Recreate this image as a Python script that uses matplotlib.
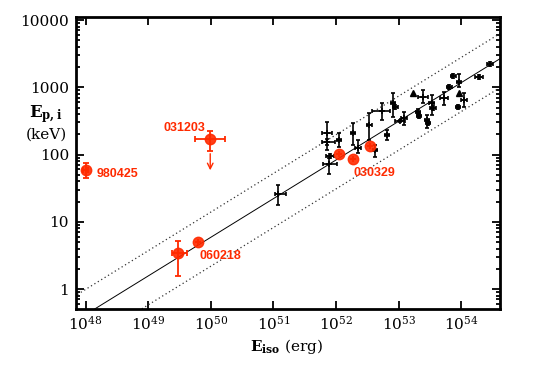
import matplotlib
matplotlib.use("Agg")
import matplotlib.pyplot as plt
import numpy as np

# Eiso in units of 1e52 erg, Ep,i in keV
blk_eiso = [0.12, 0.71, 0.71, 0.81, 0.78, 1.12, 1.88, 2.25, 3.38, 4.2, 5.45, 8.2, 8.8,
            6.5, 10.6, 12.2, 24.6, 20.5, 21.2, 28.5, 29.5, 34, 35.6, 53, 64, 74, 93,
            89, 111, 193, 289]
blk_ep = [26, 207, 155, 95, 72, 164, 209, 125, 275, 117, 444, 583, 508,
          195, 315, 349, 716, 429, 373, 326, 294, 583, 491, 692, 1010, 1470, 1200,
          508, 646, 1420, 2220]
blk_eiso_lo = [0.107, 0.59, 0.59, 0.70, 0.62, 1.02, 1.75, 2.0, 3.1, 3.9, 3.8, 7.6, 8.0,
               6.0, 8.8, 11.0, 20.4, 19, 19.5, 26, 27, 31, 32, 46, 59, 68, 86,
               82, 100, 166, 260]
blk_eiso_hi = [0.158, 0.85, 0.97, 0.93, 1.05, 1.22, 2.0, 2.5, 3.7, 4.5, 7.3, 8.8, 9.6,
               7.0, 12.7, 13.5, 29.5, 22, 23, 31, 32, 37, 39, 61, 70, 81, 100,
               96, 123, 224, 320]
blk_ep_lo = [17.7, 117, 140, 88, 51, 129, 138, 105, 164, 92, 326, 361, 470,
             165, 300, 275, 583, 395, 350, 248, 275, 386, 460, 545, 950, 1380, 1010,
             480, 508, 1340, 2100]
blk_ep_hi = [35, 307, 170, 102, 89, 209, 294, 164, 414, 138, 583, 820, 550,
             230, 330, 429, 910, 480, 400, 386, 315, 767, 525, 849, 1080, 1570, 1575,
             540, 820, 1500, 2350]

tri_eiso = [17, 93]
tri_ep = [820, 820]

# red GRBs
red_eiso = [1.0e-4, 0.0098, 0.0063, 0.0030, 1.12, 1.88, 3.5]
red_ep = [59, 170, 5.0, 3.4, 102, 86, 134]
red_eiso_lo = [0.92e-4, 0.0056, 0.0063, 0.0024, 1.12, 1.88, 3.5]
red_eiso_hi = [1.08e-4, 0.017, 0.0063, 0.0042, 1.12, 1.88, 3.5]
red_ep_lo = [45, 113, 5.0, 1.56, 102, 86, 134]
red_ep_hi = [75, 224, 5.0, 5.2, 102, 86, 134]
red_names = ["980425", "031203", "060218", "", "", "", "030329"]

# upper limit arrow for 031203
lim_eiso = 0.0098
lim_ep_top = 113
lim_ep_bot = 53

# Amati relation and its band
K, m = 83.0, 0.575
band_up, band_dn = 0.375, -0.43

red = '#ff2a00'

plt.rcParams['font.family'] = 'DejaVu Serif'
plt.rcParams['mathtext.fontset'] = 'dejavuserif'

fig = plt.figure(figsize=(5.41, 3.73), dpi=100)
ax = fig.add_axes([0.1405, 0.1716, 0.784, 0.7828])
ax.set_xscale('log')
ax.set_yscale('log')

# lines
xx = np.logspace(47, 55, 50)
yy = K * (xx / 1e52) ** m
ax.plot(xx, yy, color='black', lw=0.7)
ax.plot(xx, yy * 10 ** band_up, color='#333333', lw=0.9, ls=(0, (1, 2.2)))
ax.plot(xx, yy * 10 ** band_dn, color='#333333', lw=0.9, ls=(0, (1, 2.2)))

# black points
bx = np.array(blk_eiso) * 1e52
by = np.array(blk_ep)
xerr = [bx - np.array(blk_eiso_lo) * 1e52, np.array(blk_eiso_hi) * 1e52 - bx]
yerr = [by - np.array(blk_ep_lo), np.array(blk_ep_hi) - by]
ax.errorbar(bx, by, xerr=xerr, yerr=yerr, fmt='+', color='black', ms=4, mew=1.2,
            elinewidth=1.2, capsize=1.5, capthick=1.2, zorder=3)
ax.plot(np.array(tri_eiso) * 1e52, tri_ep, '^', color='black', ms=4, zorder=3)

# red points
rx = np.array(red_eiso) * 1e52
ry = np.array(red_ep)
rxerr = [rx - np.array(red_eiso_lo) * 1e52, np.array(red_eiso_hi) * 1e52 - rx]
ryerr = [ry - np.array(red_ep_lo), np.array(red_ep_hi) - ry]
ax.errorbar(rx, ry, xerr=rxerr, yerr=ryerr, fmt='none', ecolor=red, elinewidth=1.3,
            capsize=2, capthick=1.3, zorder=4)
ax.plot(rx, ry, 'o', color=red, ms=7.5, mec=red, alpha=0.9, zorder=5)
ax.annotate('', xy=(lim_eiso * 1e52, lim_ep_bot), xytext=(lim_eiso * 1e52, lim_ep_top),
            arrowprops=dict(arrowstyle='->', color=red, lw=1.0), zorder=4)

lab_font = dict(color=red, family='Liberation Sans', weight='bold', fontsize=9)
ax.text(rx[0] * 1.5, ry[0] * 0.86, red_names[0], ha='left', va='center', **lab_font)
ax.text(rx[1] / 1.2, ry[1] * 1.45, red_names[1], ha='right', va='center', **lab_font)
ax.text(rx[2] * 1.05, ry[2] / 1.6, red_names[2], ha='left', va='center', **lab_font)
ax.text(rx[5] * 1.0, ry[5] / 1.6, red_names[6], ha='left', va='center', **lab_font)

ax.set_xlim(10 ** 47.848, 10 ** 54.621)
ax.set_ylim(0.505, 11090)

ax.set_xticks([10.0 ** k for k in range(48, 55)])
ax.set_xticklabels([r'$10^{%d}$' % k for k in range(48, 55)], fontsize=11)
ax.xaxis.set_minor_locator(matplotlib.ticker.NullLocator())
ax.set_yticks([1, 10, 100, 1000, 10000])
ax.set_yticklabels(['1', '10', '100', '1000', '10000'], fontsize=11)

ax.tick_params(which='both', direction='in', top=True, right=True, width=1.3)
ax.tick_params(which='major', length=6, pad=5)
ax.tick_params(axis='x', which='major', pad=4)
ax.tick_params(which='minor', length=3)
for s in ax.spines.values():
    s.set_linewidth(2)

fig.text(0.085, 0.695, r'$\mathbf{E_{p,i}}$', ha='center', va='center', fontsize=12)
fig.text(0.085, 0.64, '(keV)', ha='center', va='center', fontsize=11)
fig.text(0.53, 0.072, r'$\mathbf{E_{iso}}$ (erg)', ha='center', va='center', fontsize=11)

fig.savefig('out.png', dpi=100)
